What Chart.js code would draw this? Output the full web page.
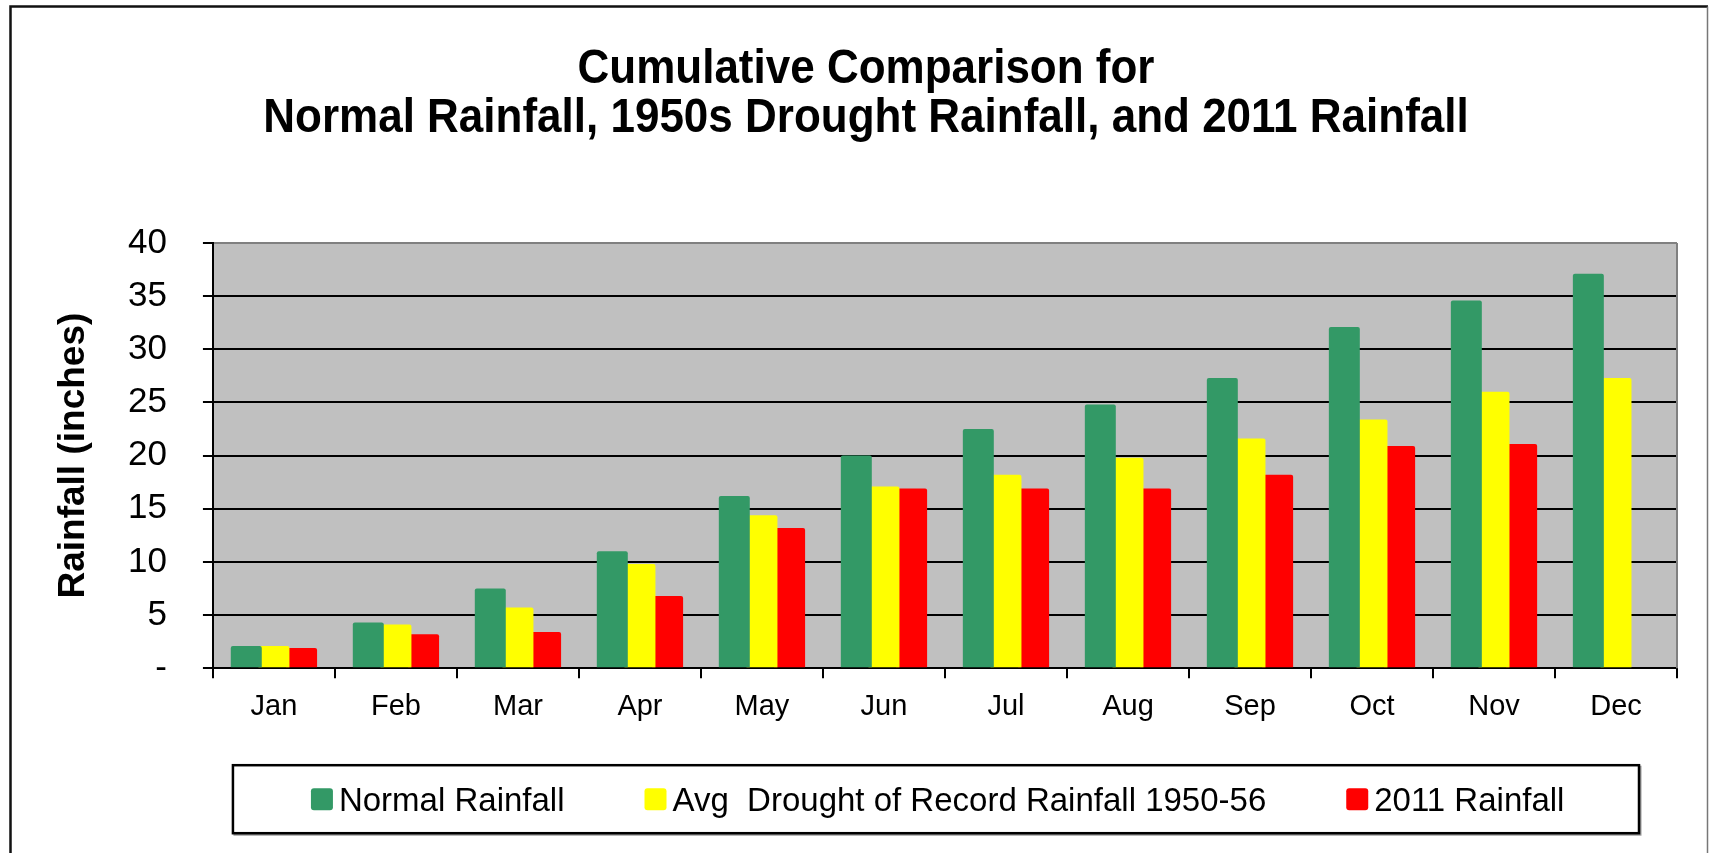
<!DOCTYPE html>
<html>
<head>
<meta charset="utf-8">
<title>Cumulative Rainfall Comparison</title>
<script src="https://cdn.jsdelivr.net/npm/chart.js@4.4.1/dist/chart.umd.min.js"></script>
<style>
  html, body { margin: 0; padding: 0; background: #ffffff; overflow: hidden; }
  #wrap { width: 1710px; height: 853px; position: relative; }
  canvas { display: block; }
</style>
</head>
<body>
<div id="wrap"><canvas id="rainChart" width="1710" height="853"></canvas></div>
<script>
// Months along the category axis
const months = ['Jan', 'Feb', 'Mar', 'Apr', 'May', 'Jun', 'Jul', 'Aug', 'Sep', 'Oct', 'Nov', 'Dec'];

// Cumulative rainfall, inches
const normalRainfall  = [2.1, 4.3, 7.5, 11.0, 16.2, 20.0, 22.5, 24.8, 27.3, 32.1, 34.6, 37.1];
const droughtRainfall = [2.1, 4.1, 5.7, 9.8, 14.4, 17.1, 18.2, 19.8, 21.6, 23.4, 26.0, 27.3];
const rainfall2011    = [1.9, 3.2, 3.4, 6.8, 13.2, 16.9, 16.9, 16.9, 18.2, 20.9, 21.1, null];

// Value axis ticks
const yTickValues = [0, 5, 10, 15, 20, 25, 30, 35, 40];

const seriesNames = ['Normal Rainfall', 'Avg  Drought of Record Rainfall 1950-56', '2011 Rainfall'];
const titleLines = ['Cumulative Comparison for', 'Normal Rainfall, 1950s Drought Rainfall, and 2011 Rainfall'];
const yAxisTitle = 'Rainfall (inches)';

const FONT = '"Liberation Sans", Arial, Helvetica, sans-serif';
const GREEN = '#339966', YELLOW = '#FFFF00', RED = '#FF0000';
const TITLE_PAD_TOP = 50, TITLE_LINE = 44, TITLE_STRETCH = 1.1;

Chart.defaults.font.family = FONT;
Chart.defaults.color = '#000000';

// White page, outer frame and grey plot background
const framePlugin = {
  id: 'frame',
  beforeDraw(chart) {
    const { ctx, chartArea: a, width, height } = chart;
    ctx.save();
    ctx.fillStyle = '#ffffff';
    ctx.fillRect(0, 0, width, height);
    ctx.fillStyle = '#C0C0C0';
    ctx.fillRect(a.left, a.top, a.right - a.left, a.bottom - a.top);
    // outer chart border
    ctx.strokeStyle = '#111111';
    ctx.lineWidth = 2.5;
    ctx.beginPath();
    ctx.moveTo(10.5, height + 2);
    ctx.lineTo(10.5, 6.5);
    ctx.lineTo(width - 2, 6.5);
    ctx.stroke();
    ctx.strokeStyle = '#777777';
    ctx.lineWidth = 1.5;
    ctx.beginPath();
    ctx.moveTo(width - 2.5, 6.5);
    ctx.lineTo(width - 2.5, height + 2);
    ctx.stroke();
    ctx.restore();

    // tall, narrow title lettering: stretch the title block vertically about its text centre
    const tb = chart.titleBlock;
    if (tb && !tb.__stretched) {
      const orig = tb.draw.bind(tb);
      tb.draw = function () {
        const c = this.ctx;
        const cy = this.top + TITLE_PAD_TOP + TITLE_LINE * titleLines.length / 2;
        c.save();
        c.translate(0, cy);
        c.scale(1, TITLE_STRETCH);
        c.translate(0, -cy);
        orig();
        c.restore();
      };
      tb.__stretched = true;
    }
  },
  beforeDatasetsDraw(chart) {
    const { ctx, chartArea: a } = chart;
    ctx.save();
    ctx.strokeStyle = '#808080';
    ctx.lineWidth = 2;
    ctx.beginPath();
    ctx.moveTo(a.right, a.top);
    ctx.lineTo(a.right, a.bottom);
    ctx.stroke();
    ctx.restore();
  }
};

// Boxed legend beneath the axis
const boxLegendPlugin = {
  id: 'boxLegend',
  afterDraw(chart) {
    const { ctx, chartArea: a } = chart;
    const boxL = a.left + 20, boxR = a.right - 38;
    const boxT = a.bottom + 97, boxB = a.bottom + 165;
    const base = a.bottom + 143;
    ctx.save();
    ctx.strokeStyle = '#999999';
    ctx.lineWidth = 2;
    ctx.strokeRect(boxL + 1.5, boxT + 1.5, boxR - boxL, boxB - boxT);
    ctx.fillStyle = '#ffffff';
    ctx.fillRect(boxL, boxT, boxR - boxL, boxB - boxT);
    ctx.strokeStyle = '#000000';
    ctx.lineWidth = 2.5;
    ctx.strokeRect(boxL, boxT, boxR - boxL, boxB - boxT);
    ctx.font = '33px ' + FONT;
    ctx.textBaseline = 'alphabetic';
    ctx.textAlign = 'left';
    let x = boxL + 78;
    chart.data.datasets.forEach(ds => {
      ctx.fillStyle = ds.backgroundColor;
      ctx.beginPath();
      ctx.roundRect(x, base - 23, 22, 22, 3);
      ctx.fill();
      ctx.fillStyle = '#000000';
      ctx.fillText(ds.label, x + 28, base);
      x += 28 + ctx.measureText(ds.label).width + 80;
    });
    ctx.restore();
  }
};

const barShape = {
  categoryPercentage: 0.68,
  barPercentage: 1.12,
  borderRadius: { topLeft: 2, topRight: 2 },
  borderSkipped: 'bottom'
};

new Chart(document.getElementById('rainChart'), {
  type: 'bar',
  data: {
    labels: months,
    datasets: [
      { label: seriesNames[0], data: normalRainfall, backgroundColor: GREEN, ...barShape },
      { label: seriesNames[1], data: droughtRainfall, backgroundColor: YELLOW, ...barShape },
      { label: seriesNames[2], data: rainfall2011, backgroundColor: RED, ...barShape }
    ]
  },
  options: {
    responsive: false,
    animation: false,
    devicePixelRatio: 1,
    layout: { padding: { left: 55, right: 33, top: 0, bottom: 118 } },
    plugins: {
      legend: { display: false },
      tooltip: { enabled: false },
      title: {
        display: true,
        text: titleLines,
        color: '#000000',
        font: { family: FONT, size: 44, weight: 'bold', lineHeight: TITLE_LINE / 44 },
        padding: { top: TITLE_PAD_TOP, bottom: 105 }
      }
    },
    scales: {
      x: {
        offset: true,
        grid: {
          offset: true,
          drawOnChartArea: false,
          drawTicks: true,
          tickLength: 10,
          color: '#000000',
          lineWidth: 2
        },
        border: { display: true, color: '#000000', width: 2 },
        ticks: {
          autoSkip: false,
          maxRotation: 0,
          padding: 11,
          color: '#000000',
          font: { family: FONT, size: 29 }
        }
      },
      y: {
        min: 0,
        max: 40,
        afterBuildTicks(scale) {
          scale.ticks = yTickValues.map(v => ({ value: v }));
        },
        grid: {
          color: c => (c.tick && c.tick.value === 40 ? '#808080' : '#000000'),
          tickColor: '#000000',
          lineWidth: 2,
          tickLength: 10
        },
        border: { display: true, color: '#000000', width: 2 },
        ticks: {
          padding: 36,
          color: '#000000',
          font: { family: FONT, size: 35 },
          callback: v => (v === 0 ? '-' : String(v))
        },
        title: {
          display: true,
          text: yAxisTitle,
          color: '#000000',
          font: { family: FONT, size: 37, weight: 'bold', lineHeight: 1.0 },
          padding: { top: 0, bottom: 0 }
        }
      }
    }
  },
  plugins: [framePlugin, boxLegendPlugin]
});
</script>
</body>
</html>
